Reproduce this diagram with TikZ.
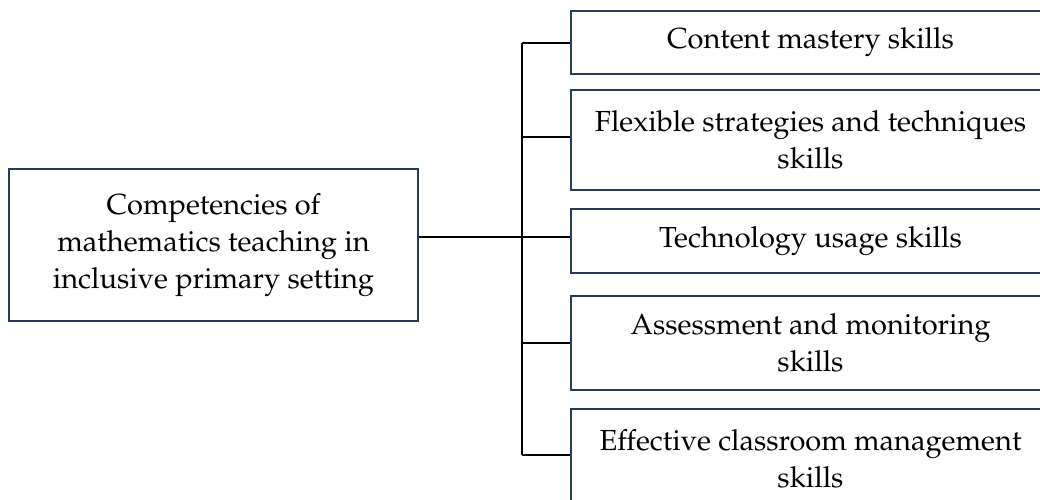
\documentclass[tikz,border=0pt]{standalone}
\usepackage[T1]{fontenc}
\usepackage{mathpazo}
\definecolor{boxblue}{HTML}{243B5C}
\begin{document}
\begin{tikzpicture}[x=1pt,y=-1pt,
  txt/.style={font=\fontsize{29}{37}\selectfont, align=center, text=black},
  rbox/.style={txt, draw=boxblue, line width=2.6pt, rectangle, inner sep=0pt, minimum width=479pt},
  lbox/.style={txt, draw=boxblue, line width=2.6pt, rectangle, inner sep=0pt, minimum width=409pt, minimum height=152pt},
  conn/.style={draw=black, line width=1.8pt}]
\useasboundingbox (0,0) rectangle (1040,499);
\fill[white] (0,0) rectangle (1040,499);
\node[lbox] (root) at (213.5,245) {Competencies of\\mathematics teaching in\\inclusive primary setting};
\node[rbox, minimum height=63pt] (b1) at (810.5,42.5) {Content mastery skills};
\node[rbox, minimum height=100pt] (b2) at (810.5,140) {Flexible strategies and techniques\\skills};
\node[rbox, minimum height=64pt] (b3) at (810.5,241) {Technology usage skills};
\node[rbox, minimum height=94pt] (b4) at (810.5,343) {Assessment and monitoring\\skills};
\node[rbox, minimum height=100pt] (b5) at (810.5,459) {Effective classroom management\\skills};
\coordinate (t1) at (522,43);
\coordinate (t2) at (522,137);
\coordinate (t3) at (522,237);
\coordinate (t4) at (522,343);
\coordinate (t5) at (522,455);
\draw[conn] (t3 -| root.east) -- (t3);
\draw[conn] (t1) -- (t5);
\draw[conn] (t1) -- (t1 -| b1.west);
\draw[conn] (t2) -- (t2 -| b2.west);
\draw[conn] (t3) -- (t3 -| b3.west);
\draw[conn] (t4) -- (t4 -| b4.west);
\draw[conn] (t5) -- (t5 -| b5.west);
\end{tikzpicture}
\end{document}
